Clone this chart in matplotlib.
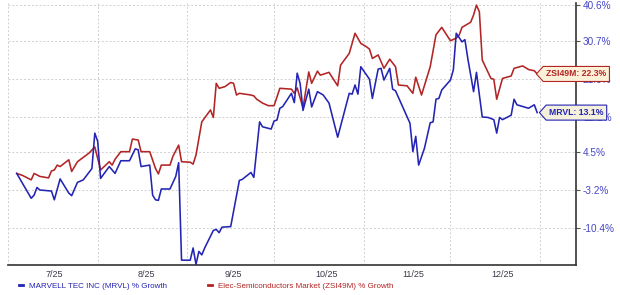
import numpy as np
import pandas as pd
import matplotlib
matplotlib.use("Agg")
import matplotlib.pyplot as plt
import matplotlib.dates as mdates
from matplotlib.path import Path
from matplotlib.lines import Line2D

plt.rcParams['font.family'] = ['Liberation Sans', 'DejaVu Sans']

# Elec-Semiconductors Market (ZSI49M) % growth
zsi_dates = ['2025-07-04', '2025-07-06', '2025-07-09', '2025-07-10', '2025-07-12', '2025-07-15',
             '2025-07-16', '2025-07-17', '2025-07-18', '2025-07-19', '2025-07-22', '2025-07-23',
             '2025-07-25', '2025-07-29', '2025-07-31', '2025-08-02', '2025-08-05', '2025-08-06',
             '2025-08-07', '2025-08-09', '2025-08-12', '2025-08-13', '2025-08-15', '2025-08-16',
             '2025-08-19', '2025-08-21', '2025-08-22', '2025-08-23', '2025-08-26', '2025-08-27',
             '2025-08-29', '2025-08-30', '2025-09-02', '2025-09-03', '2025-09-04', '2025-09-06',
             '2025-09-09', '2025-09-10', '2025-09-11', '2025-09-12', '2025-09-14', '2025-09-16',
             '2025-09-17', '2025-09-18', '2025-09-19', '2025-09-23', '2025-09-24', '2025-09-25',
             '2025-09-27', '2025-09-29', '2025-10-01', '2025-10-03', '2025-10-07', '2025-10-08',
             '2025-10-09', '2025-10-11', '2025-10-13', '2025-10-14', '2025-10-16', '2025-10-17',
             '2025-10-20', '2025-10-23', '2025-10-24', '2025-10-27', '2025-10-29', '2025-10-31',
             '2025-11-02', '2025-11-03', '2025-11-04', '2025-11-06', '2025-11-08', '2025-11-10',
             '2025-11-12', '2025-11-13', '2025-11-16', '2025-11-18', '2025-11-19', '2025-11-21',
             '2025-11-24', '2025-11-26', '2025-11-28', '2025-12-01', '2025-12-03', '2025-12-04',
             '2025-12-05', '2025-12-08', '2025-12-09', '2025-12-10', '2025-12-11', '2025-12-12',
             '2025-12-15', '2025-12-16', '2025-12-17', '2025-12-19', '2025-12-22', '2025-12-23',
             '2025-12-26', '2025-12-28', '2025-12-30', '2025-12-31']
zsi_growth = [0.0, -0.4, -1.3, 0.0, -0.6, -0.9,
              0.5, 0.7, 1.7, 1.4, 2.8, 0.4,
              2.4, 4.2, 5.5, 0.7, 2.4, 1.7,
              2.9, 4.5, 4.5, 7.2, 7.0, 4.5,
              4.5, 1.0, -0.1, 1.7, 1.7, 3.5,
              5.9, 2.4, 2.3, 1.9, 3.8, 11.0,
              13.7, 12.0, 20.0, 18.8, 19.2, 20.2,
              20.0, 17.2, 17.6, 17.2, 17.0, 16.2,
              15.3, 14.7, 14.7, 18.8, 18.6, 17.6,
              18.9, 14.2, 22.8, 20.0, 23.0, 22.0,
              22.7, 19.4, 24.5, 27.5, 32.8, 30.1,
              29.2, 28.6, 26.2, 27.1, 23.7, 26.0,
              24.1, 19.6, 19.4, 17.6, 21.5, 17.2,
              24.1, 32.4, 34.4, 30.8, 31.5, 32.3,
              34.4, 35.8, 37.8, 40.6, 38.7, 25.8,
              21.2, 21.0, 16.2, 21.2, 21.8, 23.7,
              24.3, 23.4, 23.1, 22.3]

# MARVELL TEC INC (MRVL) % growth
mrvl_dates = ['2025-07-04', '2025-07-09', '2025-07-10', '2025-07-11', '2025-07-12', '2025-07-16',
              '2025-07-17', '2025-07-19', '2025-07-22', '2025-07-23', '2025-07-25', '2025-07-27',
              '2025-07-30', '2025-07-31', '2025-08-01', '2025-08-02', '2025-08-05', '2025-08-07',
              '2025-08-09', '2025-08-12', '2025-08-14', '2025-08-15', '2025-08-16', '2025-08-19',
              '2025-08-20', '2025-08-21', '2025-08-22', '2025-08-23', '2025-08-26', '2025-08-28',
              '2025-08-29', '2025-08-30', '2025-09-02', '2025-09-03', '2025-09-04', '2025-09-05',
              '2025-09-06', '2025-09-07', '2025-09-10', '2025-09-11', '2025-09-12', '2025-09-13',
              '2025-09-16', '2025-09-19', '2025-09-20', '2025-09-23', '2025-09-24', '2025-09-26',
              '2025-09-27', '2025-09-30', '2025-10-01', '2025-10-02', '2025-10-03', '2025-10-04',
              '2025-10-07', '2025-10-08', '2025-10-09', '2025-10-10', '2025-10-11', '2025-10-13',
              '2025-10-14', '2025-10-16', '2025-10-18', '2025-10-20', '2025-10-23', '2025-10-27',
              '2025-10-28', '2025-10-29', '2025-10-30', '2025-10-31', '2025-11-03', '2025-11-04',
              '2025-11-06', '2025-11-07', '2025-11-08', '2025-11-10', '2025-11-11', '2025-11-12',
              '2025-11-17', '2025-11-18', '2025-11-19', '2025-11-20', '2025-11-22', '2025-11-24',
              '2025-11-25', '2025-11-26', '2025-11-27', '2025-11-28', '2025-12-01', '2025-12-02',
              '2025-12-03', '2025-12-05', '2025-12-06', '2025-12-07', '2025-12-09', '2025-12-10',
              '2025-12-12', '2025-12-14', '2025-12-16', '2025-12-17', '2025-12-18', '2025-12-19',
              '2025-12-22', '2025-12-23', '2025-12-24', '2025-12-28', '2025-12-30', '2025-12-31']
mrvl_growth = [0.0, -4.9, -4.3, -2.8, -3.3, -3.5,
               -5.2, -1.1, -3.9, -4.4, -1.8, -1.3,
               1.0, 8.5, 6.7, -1.0, 1.4, 0.0,
               2.6, 2.6, 5.1, 4.9, 1.4, 1.7,
               -4.3, -5.2, -5.3, -3.1, -3.1, -0.6,
               2.2, -16.1, -16.1, -14.0, -16.8, -14.6,
               -15.2, -14.0, -10.9, -10.7, -11.3, -10.3,
               -10.2, -1.4, -1.2, 0.2, -0.8, 11.0,
               9.9, 9.4, 11.2, 11.4, 14.1, 14.5,
               17.6, 15.4, 22.5, 20.0, 13.6, 18.6,
               14.4, 18.0, 17.2, 15.3, 7.6, 17.6,
               17.4, 19.6, 17.4, 24.1, 21.0, 16.4,
               23.5, 23.7, 20.8, 23.7, 18.6, 18.2,
               10.7, 4.5, 7.8, 1.7, 5.2, 10.8,
               11.0, 16.2, 16.4, 18.4, 20.8, 23.3,
               32.8, 30.5, 31.1, 26.2, 18.0, 22.7,
               12.1, 12.0, 11.5, 8.5, 12.0, 11.5,
               12.5, 16.2, 14.9, 14.1, 14.9, 13.1]

y_ticks = [-10.4, -3.2, 4.5, 12.2, 21.0, 30.7, 40.6]
month_labels = ['7/25', '8/25', '9/25', '10/25', '11/25', '12/25']
label_dates = ['2025-07-17', '2025-08-18', '2025-09-17', '2025-10-19', '2025-11-18', '2025-12-19']

blue = '#2424b4'
red = '#b32424'

fig = plt.figure(figsize=(6.2, 2.95), dpi=100)
ax = fig.add_axes([0.013, 0.102, 0.916, 0.888])

ax.set_yscale('function', functions=(lambda v: np.log1p(np.asarray(v) / 100.0),
                                     lambda t: np.expm1(np.asarray(t)) * 100.0))

zd = pd.to_datetime(zsi_dates)
md = pd.to_datetime(mrvl_dates)
ax.plot(zd, zsi_growth, color=red, lw=1.15, zorder=3)
ax.plot(md, mrvl_growth, color=blue, lw=1.15, zorder=4)

ax.set_ylim(-16.9, 41.2)
ax.set_xlim(pd.Timestamp('2025-07-01'), pd.Timestamp('2026-01-13 10:00'))

# grid at month starts, labels mid-month
ax.xaxis.set_major_locator(mdates.MonthLocator())
ax.xaxis.set_major_formatter(plt.NullFormatter())
ax.set_xticks(pd.to_datetime(label_dates), minor=True)
ax.set_xticklabels(month_labels, minor=True)
ax.tick_params(axis='x', which='both', length=0, pad=4, labelsize=6.5, labelcolor='#3a3a4a')

ax.yaxis.tick_right()
ax.set_yticks(y_ticks)
ax.set_yticklabels([f'{v:.1f}%' for v in y_ticks])
ax.tick_params(axis='y', length=3, width=0.8, color='#555555', pad=2,
               labelsize=7.2, labelcolor='#4646c8')
ax.yaxis.set_minor_locator(plt.NullLocator())

ax.grid(True, which='major', color='#cfcfcf', lw=0.7, ls=(0, (2, 2)))
for s in ['top', 'left']:
    ax.spines[s].set_visible(False)
for s in ['bottom', 'right']:
    ax.spines[s].set_color('#333333')
    ax.spines[s].set_linewidth(1.2)


def tag_box(x0, y0, width, height, mutation_size):
    pad = 0.35 * mutation_size
    x0, y0 = x0 - pad, y0 - pad
    x1, y1 = x0 + width + 2 * pad, y0 + height + 2 * pad
    tip = (y1 - y0) * 0.45
    verts = [(x0, y0), (x1, y0), (x1, y1), (x0, y1), (x0 - tip, (y0 + y1) / 2), (x0, y0), (x0, y0)]
    codes = [Path.MOVETO] + [Path.LINETO] * 5 + [Path.CLOSEPOLY]
    return Path(verts, codes)


for d, vals, name, col, fc, off in [(zd, zsi_growth, 'ZSI49M', red, '#fbf1d8', 9),
                                    (md, mrvl_growth, 'MRVL', blue, '#f4f0dc', 12)]:
    ax.annotate(f'{name}: {vals[-1]:.1f}%', xy=(d[-1], vals[-1]), xytext=(off, 0),
                textcoords='offset pixels', ha='left', va='center', fontsize=6.2,
                fontweight='bold', color=col, annotation_clip=False, zorder=10,
                bbox=dict(boxstyle=tag_box, fc=fc, ec=col, lw=0.8))

handles = [Line2D([], [], color=blue, lw=2), Line2D([], [], color=red, lw=2)]
fig.legend(handles, ['MARVELL TEC INC (MRVL) % Growth', 'Elec-Semiconductors Market (ZSI49M) % Growth'],
           loc='lower left', bbox_to_anchor=(0.019, -0.008), ncol=2, frameon=False,
           fontsize=5.8, handlelength=0.5, handletextpad=0.75, columnspacing=5.1,
           labelcolor='linecolor')

fig.savefig('out.png', dpi=100)
